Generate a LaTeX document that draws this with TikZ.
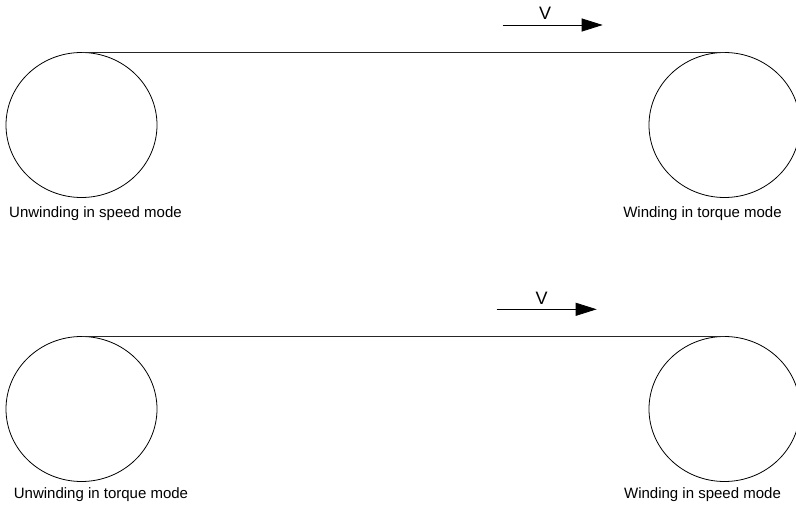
\documentclass[tikz,border=0pt]{standalone}
\usepackage{fontspec}
\setmainfont{Liberation Sans}
\usetikzlibrary{shapes.geometric,arrows.meta}
\tikzset{
  roll/.style={draw=black, ellipse, line width=0.8pt, minimum width=151pt, minimum height=145pt, inner sep=0pt},
  lbl/.style={font=\fontsize{15}{18}\selectfont, inner sep=0pt, anchor=base},
  vlbl/.style={font=\fontsize{18}{20}\selectfont, inner sep=0pt, anchor=base},
  web/.style={draw=black!85, line width=0.8pt},
  vel/.style={draw=black, line width=0.8pt, -{Triangle[length=21pt,width=13pt]}}
}
\begin{document}
\begin{tikzpicture}[x=1pt,y=-1pt]
\useasboundingbox (0,0) rectangle (796,508);
% top row
\node[roll] (r1) at (81.5,125) {};
\node[roll] (r2) at (724.5,125) {};
\draw[web] (r1.north) -- (r2.north);
\coordinate (v1s) at (502.7,25);
\coordinate (v1e) at (602.7,25);
\draw[vel] (v1s) -- (v1e);
\node[vlbl] (v1) at (545,20) {V};
\node[lbl] (t1) at (95.5,218) {Unwinding in speed mode};
\node[lbl] (t2) at (702.5,218) {Winding in torque mode};
% bottom row
\node[roll] (r3) at (81.5,409) {};
\node[roll] (r4) at (724.5,409) {};
\draw[web] (r3.north) -- (r4.north);
\coordinate (v2s) at (496.7,309.3);
\coordinate (v2e) at (596.7,309.3);
\draw[vel] (v2s) -- (v2e);
\node[vlbl] (v2) at (541.7,304) {V};
\node[lbl] (t3) at (101,498) {Unwinding in torque mode};
\node[lbl] (t4) at (702.5,498) {Winding in speed mode};
\end{tikzpicture}
\end{document}
